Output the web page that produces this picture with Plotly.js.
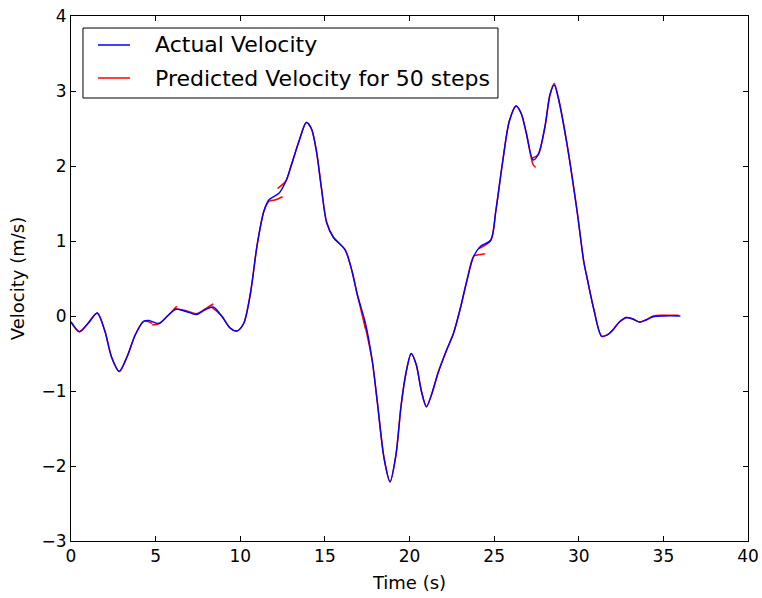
<!DOCTYPE html>
<html>
<head>
<meta charset="utf-8">
<script src="https://cdn.plot.ly/plotly-3.0.1.min.js"></script>
<style>html,body{margin:0;padding:0;background:#fff;}#chart{width:762px;height:598px;}</style>
</head>
<body>
<div id="chart"></div>
<script>
// Actual velocity
var actualT = [0, 0.5, 1.0, 1.55, 2.0, 2.4, 2.85, 3.3, 3.8, 4.3, 4.6, 5.2, 5.7, 6.2, 6.8, 7.4, 7.9, 8.4, 8.9, 9.4, 9.8, 10.2, 10.6, 11.0, 11.4, 11.7, 12.3, 12.7, 13.0, 13.5, 13.9, 14.2, 14.5, 14.8, 15.1, 15.5, 16.2, 16.6, 16.9, 17.4, 17.8, 18.1, 18.5, 18.85, 19.2, 19.5, 19.8, 20.1, 20.4, 20.7, 21.0, 21.3, 21.7, 22.2, 22.6, 23.0, 23.4, 23.8, 24.2, 24.8, 25.1, 25.5, 25.9, 26.3, 26.6, 26.9, 27.3, 27.6, 28.0, 28.3, 28.55, 28.8, 29.3, 29.9, 30.3, 30.5, 30.9, 31.35, 31.7, 32.0, 32.4, 32.8, 33.2, 33.6, 34.0, 34.4, 35.0, 36.0];
var actualV = [-0.08, -0.21, -0.1, 0.04, -0.2, -0.55, -0.74, -0.55, -0.25, -0.07, -0.06, -0.1, 0.0, 0.09, 0.06, 0.02, 0.08, 0.12, 0.0, -0.16, -0.2, -0.1, 0.3, 0.95, 1.4, 1.55, 1.64, 1.8, 2.0, 2.35, 2.58, 2.5, 2.2, 1.7, 1.25, 1.05, 0.88, 0.6, 0.3, -0.1, -0.6, -1.15, -1.9, -2.21, -1.85, -1.2, -0.75, -0.5, -0.65, -1.0, -1.21, -1.05, -0.75, -0.45, -0.23, 0.1, 0.48, 0.8, 0.93, 1.01, 1.4, 2.05, 2.6, 2.8, 2.7, 2.44, 2.08, 2.15, 2.52, 2.95, 3.08, 2.9, 2.3, 1.4, 0.72, 0.5, 0.08, -0.27, -0.25, -0.19, -0.08, -0.02, -0.04, -0.08, -0.05, -0.01, 0.0, 0.0];

// Predicted velocity, 50-step segments (null = break between segments)
var predT = [0, 0.5, 1.0, 1.55, 2.0, 2.4, 2.85, 3.3, 3.8, 4.3, 4.8, null,
             4.8, 5.2, 5.7, 6.25, null,
             6.1, 6.8, 7.4, 7.9, 8.4, null,
             8.3, 8.9, 9.4, 9.8, 10.2, 10.6, 11.0, 11.4, 11.7, 12.1, 12.5, null,
             12.2, 12.7, 13.0, 13.5, 13.9, 14.2, 14.5, 14.8, 15.1, 15.5, 16.2, 16.6, 16.9, 17.4, null,
             17.3, 17.8, 18.1, 18.5, 18.85, 19.2, 19.5, 19.8, 20.1, 20.4, 20.7, 21.0, 21.3, 21.7, 22.2, 22.6, 23.0, 23.4, 23.8, 24.2, 24.45, null,
             24.1, 24.8, 25.1, 25.5, 25.9, 26.3, 26.6, 26.9, 27.3, 27.45, null,
             27.2, 27.6, 28.0, 28.3, 28.55, 28.8, 29.3, 29.9, 30.3, 30.5, 30.9, 31.35, 31.7, 32.0, 32.4, 32.8, null,
             32.8, 33.2, 33.6, 34.0, 34.4, 35.0, 35.9];
var predV = [-0.08, -0.21, -0.1, 0.04, -0.2, -0.55, -0.74, -0.55, -0.25, -0.07, -0.1, null,
             -0.12, -0.1, 0.0, 0.13, null,
             0.1, 0.07, 0.03, 0.09, 0.16, null,
             0.12, 0.0, -0.16, -0.2, -0.1, 0.3, 0.95, 1.4, 1.53, 1.55, 1.59, null,
             1.7, 1.8, 2.0, 2.35, 2.58, 2.5, 2.2, 1.7, 1.25, 1.05, 0.88, 0.6, 0.3, -0.17, null,
             -0.05, -0.6, -1.15, -1.9, -2.21, -1.85, -1.2, -0.75, -0.5, -0.65, -1.0, -1.21, -1.05, -0.75, -0.45, -0.23, 0.1, 0.48, 0.8, 0.82, 0.83, null,
             0.9, 1.01, 1.4, 2.05, 2.6, 2.8, 2.7, 2.44, 2.02, 1.98, null,
             2.1, 2.15, 2.52, 2.95, 3.1, 2.9, 2.3, 1.4, 0.72, 0.5, 0.08, -0.27, -0.25, -0.19, -0.08, -0.02, null,
             -0.02, -0.04, -0.08, -0.05, 0.0, 0.01, 0.01];

var xTicks = [0, 5, 10, 15, 20, 25, 30, 35, 40];
var yTicks = [-3, -2, -1, 0, 1, 2, 3, 4];
var legendNames = ['Actual Velocity', 'Predicted Velocity for 50 steps'];
var legendColors = ['#0000ff', '#ff0000'];

var font = "'DejaVu Sans', 'Bitstream Vera Sans', sans-serif";

var traces = [
  {x: predT, y: predV, type: 'scatter', mode: 'lines', name: legendNames[1],
   line: {color: legendColors[1], width: 1.5, shape: 'spline', smoothing: 0.8}, connectgaps: false},
  {x: actualT, y: actualV, type: 'scatter', mode: 'lines', name: legendNames[0],
   line: {color: legendColors[0], width: 1.4, shape: 'spline', smoothing: 0.8}}
];

var axisCommon = {
  showline: true, linecolor: '#000', linewidth: 1, mirror: 'ticks',
  ticks: 'inside', ticklen: 5, tickwidth: 1, tickcolor: '#000',
  showgrid: false, zeroline: false,
  tickfont: {family: font, size: 17, color: '#000'}
};

// legend drawn in paper coordinates of the plot area
var lgX0 = 0.0177, lgX1 = 0.6307, lgY0 = 0.8438, lgY1 = 0.9771;
var rowY = [0.9448, 0.8819];
var shapes = [{type: 'rect', xref: 'paper', yref: 'paper', x0: lgX0, x1: lgX1, y0: lgY0, y1: lgY1,
               line: {color: '#000', width: 1}, fillcolor: '#fff', layer: 'above'}];
var annotations = [];
for (var i = 0; i < legendNames.length; i++) {
  shapes.push({type: 'line', xref: 'paper', yref: 'paper', x0: 0.0399, x1: 0.0872, y0: rowY[i], y1: rowY[i],
               line: {color: legendColors[i], width: 1.4}, layer: 'above'});
  annotations.push({xref: 'paper', yref: 'paper', x: 0.1211, y: rowY[i], xanchor: 'left', yanchor: 'middle',
                    text: legendNames[i], showarrow: false, font: {family: font, size: 22, color: '#000'}});
}

var layout = {
  width: 762, height: 598,
  margin: {l: 71, r: 14, t: 16, b: 57, pad: 0},
  paper_bgcolor: '#fff', plot_bgcolor: '#fff',
  showlegend: false,
  shapes: shapes,
  annotations: annotations,
  xaxis: Object.assign({}, axisCommon, {
    range: [0, 40], tickvals: xTicks, ticktext: xTicks.map(String),
    title: {text: 'Time (s)', font: {family: font, size: 18, color: '#000'}, standoff: 10}
  }),
  yaxis: Object.assign({}, axisCommon, {
    range: [-3, 4], tickvals: yTicks,
    ticktext: yTicks.map(function(v){ return v < 0 ? '\u2212' + Math.abs(v) : String(v); }),
    title: {text: 'Velocity (m/s)', font: {family: font, size: 18, color: '#000'}, standoff: 12}
  })
};

Plotly.newPlot('chart', traces, layout, {displayModeBar: false, staticPlot: true});
</script>
</body>
</html>
